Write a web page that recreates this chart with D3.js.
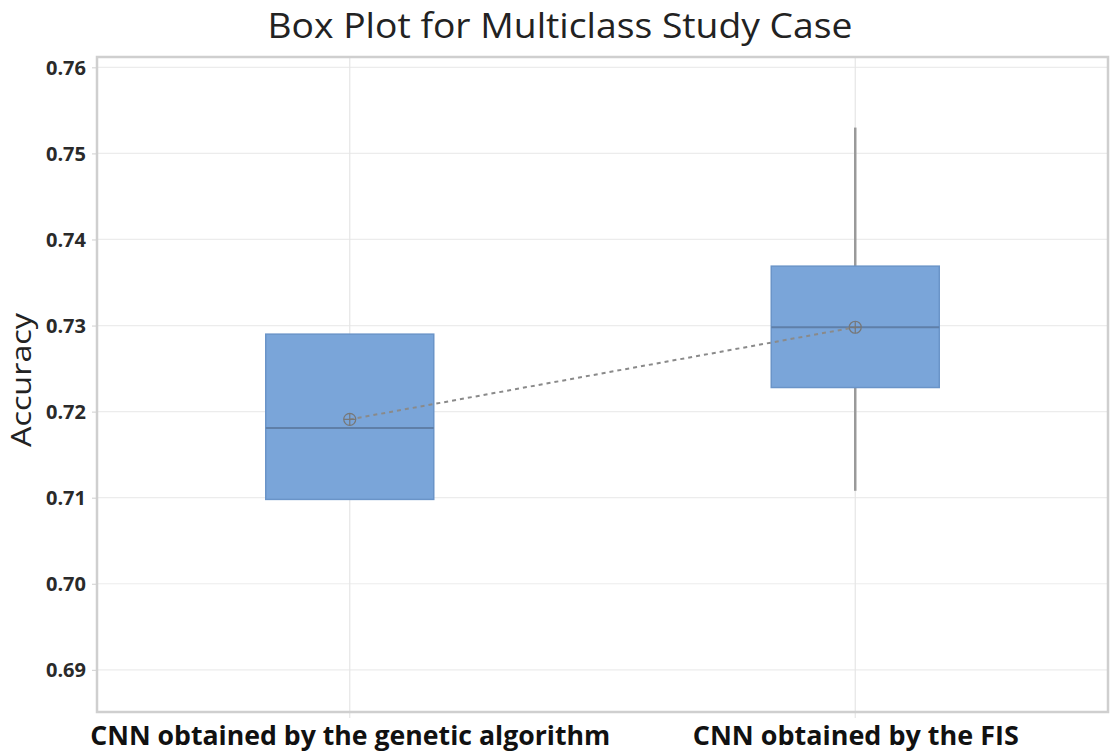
<!DOCTYPE html>
<html><head><meta charset="utf-8">
<script src="https://cdn.jsdelivr.net/npm/d3@7"></script>
<style>body{margin:0;background:#fff;} svg{display:block;}</style>
</head><body>
<svg id="c" width="1111" height="756"></svg>
<script>
const categories = ["CNN obtained by the genetic algorithm", "CNN obtained by the FIS"];
const q1 = [0.7098, 0.7228];
const median = [0.7181, 0.7298];
const q3 = [0.7290, 0.7369];
const whiskerLow = [0.7098, 0.7108];
const whiskerHigh = [0.7290, 0.7530];
const means = [0.7191, 0.7298];
const yTicks = [0.69, 0.70, 0.71, 0.72, 0.73, 0.74, 0.75, 0.76];
const labelWidths = [520, 326];

const svg = d3.select("#c");
const L = 97, R = 1108, T = 57, B = 712;
const y = d3.scaleLinear().domain([0.6851, 0.7612]).range([B, T]);
const x = d3.scalePoint().domain(categories).range([L, R]).padding(0.5);
const bw = 168;

// gridlines
svg.append("g").selectAll("line").data(yTicks).join("line")
  .attr("x1", L).attr("x2", R).attr("y1", d => y(d)).attr("y2", d => y(d))
  .attr("stroke", "#ececec").attr("stroke-width", 1.2);
svg.append("g").selectAll("line").data(categories).join("line")
  .attr("x1", d => x(d)).attr("x2", d => x(d)).attr("y1", T).attr("y2", B + 6)
  .attr("stroke", "#e6e6e6").attr("stroke-width", 1.2);

// y axis
const ya = svg.append("g").attr("transform", `translate(${L},0)`)
  .call(d3.axisLeft(y).tickValues(yTicks).tickFormat(d3.format(".2f")).tickSize(5).tickPadding(6));
ya.select(".domain").remove();
ya.selectAll(".tick line").attr("stroke", "#cfcfcf");
ya.selectAll(".tick text").attr("font-family", "Open Sans").attr("font-weight", "bold")
  .attr("font-size", 20).attr("fill", "#2a2a2a").attr("dy", "0.34em");

// x labels
const xa = svg.append("g").attr("transform", `translate(0,${B})`)
  .call(d3.axisBottom(x).tickSize(0).tickPadding(0));
xa.select(".domain").remove();
xa.selectAll(".tick text").attr("font-family", "Open Sans").attr("font-weight", "bold")
  .attr("font-size", 27).attr("fill", "#111").attr("dy", 0).attr("y", 33)
  .attr("textLength", (d, i) => labelWidths[i]).attr("lengthAdjust", "spacingAndGlyphs");

// frame
svg.append("rect").attr("x", L).attr("y", T).attr("width", R - L).attr("height", B - T)
  .attr("fill", "none").attr("stroke", "#cfcfcf").attr("stroke-width", 2.5);

// whiskers
const g = svg.append("g");
categories.forEach((c, i) => {
  g.append("line").attr("x1", x(c)).attr("x2", x(c)).attr("y1", y(whiskerHigh[i])).attr("y2", y(q3[i]))
    .attr("stroke", "#9a9a9a").attr("stroke-width", 2.5);
  g.append("line").attr("x1", x(c)).attr("x2", x(c)).attr("y1", y(q1[i])).attr("y2", y(whiskerLow[i]))
    .attr("stroke", "#9a9a9a").attr("stroke-width", 2.5);
});
g.selectAll("rect.box").data(categories).join("rect").attr("class", "box")
  .attr("x", d => x(d) - bw / 2).attr("width", bw)
  .attr("y", (d, i) => y(q3[i])).attr("height", (d, i) => y(q1[i]) - y(q3[i]))
  .attr("fill", "#7aa5d9").attr("stroke", "#6a94c8").attr("stroke-width", 1.5);
g.selectAll("line.med").data(categories).join("line").attr("class", "med")
  .attr("x1", d => x(d) - bw / 2).attr("x2", d => x(d) + bw / 2)
  .attr("y1", (d, i) => y(median[i])).attr("y2", (d, i) => y(median[i]))
  .attr("stroke", "#5f7fa8").attr("stroke-width", 2);

// mean connect line
svg.append("path").datum(categories)
  .attr("d", d3.line().x(d => x(d)).y((d, i) => y(means[i])))
  .attr("fill", "none").attr("stroke", "#8a8a8a").attr("stroke-width", 2).attr("stroke-dasharray", "4,4");
// mean markers
const m = svg.append("g").selectAll("g").data(categories).join("g")
  .attr("transform", (d, i) => `translate(${x(d)},${y(means[i])})`);
m.append("circle").attr("r", 6).attr("fill", "none").attr("stroke", "#777").attr("stroke-width", 1.2);
m.append("line").attr("x1", -6).attr("x2", 6).attr("stroke", "#777").attr("stroke-width", 1.2);
m.append("line").attr("y1", -6).attr("y2", 6).attr("stroke", "#777").attr("stroke-width", 1.2);

// title
svg.append("text").attr("x", 560).attr("y", 38).attr("text-anchor", "middle")
  .attr("font-family", "Open Sans").attr("font-size", 34).attr("fill", "#222")
  .attr("textLength", 585).attr("lengthAdjust", "spacingAndGlyphs")
  .text("Box Plot for Multiclass Study Case");
// y label
svg.append("text").attr("transform", "translate(31,380) rotate(-90)").attr("text-anchor", "middle")
  .attr("font-family", "Open Sans").attr("font-size", 27).attr("fill", "#222")
  .attr("textLength", 134).attr("lengthAdjust", "spacingAndGlyphs")
  .text("Accuracy");
</script>
</body></html>
